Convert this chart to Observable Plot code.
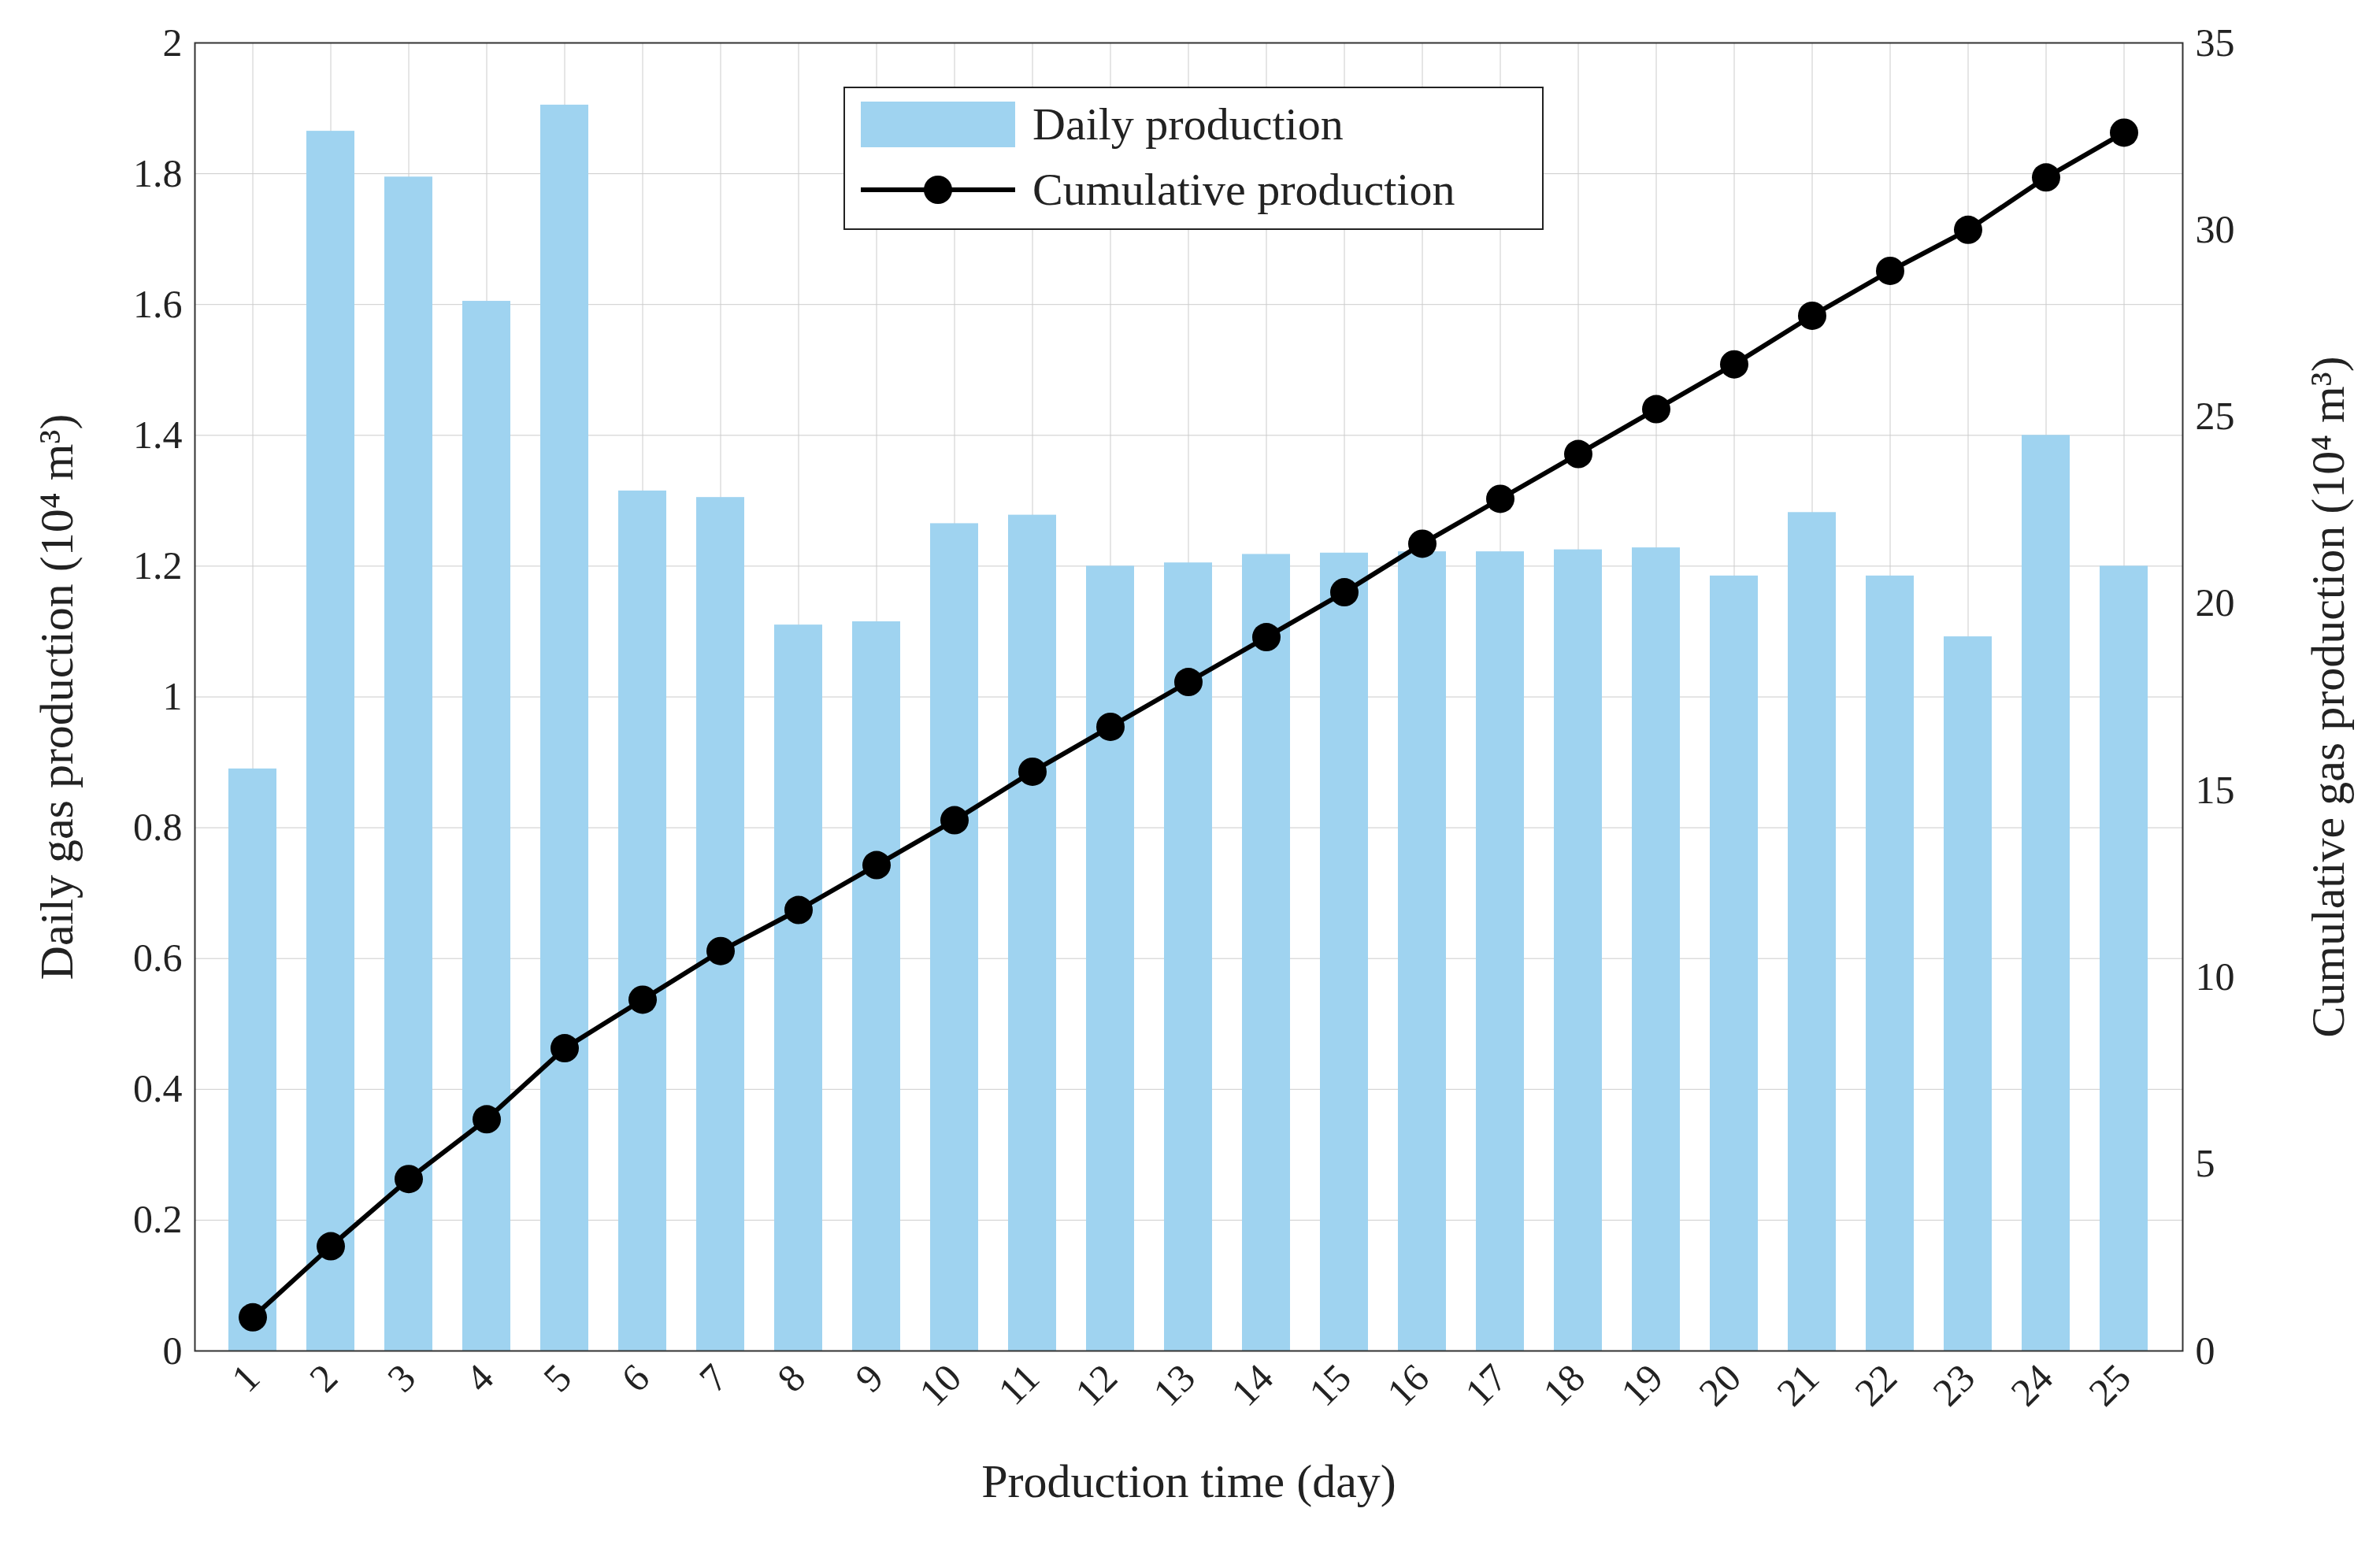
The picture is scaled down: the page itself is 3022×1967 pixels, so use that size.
<!DOCTYPE html>
<html><head><meta charset="utf-8">
<script src="https://cdn.jsdelivr.net/npm/d3@7"></script>
<script src="https://cdn.jsdelivr.net/npm/@observablehq/plot@0.6"></script>
<style>
body{margin:0;background:#fff;font-family:"Liberation Serif",serif}
#wrap{position:relative;width:3022px;height:1967px}
#legend{position:absolute;left:1071px;top:110px;width:885px;height:178px;border:2px solid #222;background:#fff;font-size:58px;color:#222}
.row{position:absolute;left:20px;display:flex;align-items:center}
svg g[aria-label="y-axis tick label"] text, svg g[aria-label="x-axis tick label"] text{font-size:50px}
</style></head><body>
<div id="wrap"><div id="chart"></div>
<div id="legend">
<div class="row" style="top:12px"><div style="width:196px;height:58px;background:#9fd3f0"></div><span style="margin-left:22px">Daily production</span></div>
<div class="row" style="top:95px"><svg width="196" height="60"><line x1="0" y1="30" x2="196" y2="30" stroke="#000" stroke-width="6"/><circle cx="98" cy="30" r="18" fill="#000"/></svg><span style="margin-left:22px">Cumulative production</span></div>
</div></div>
<script>
const days = d3.range(1, 26).map(String);
const daily = [0.89,1.865,1.795,1.605,1.905,1.315,1.305,1.11,1.115,1.265,1.278,1.2,1.205,1.218,1.22,1.222,1.222,1.225,1.228,1.185,1.282,1.185,1.092,1.4,1.2];
const cumulative = [0.9,2.8,4.6,6.2,8.1,9.4,10.7,11.8,13.0,14.2,15.5,16.7,17.9,19.1,20.3,21.6,22.8,24.0,25.2,26.4,27.7,28.9,30.0,31.4,32.6];
const leftTicks = [0,0.2,0.4,0.6,0.8,1,1.2,1.4,1.6,1.8,2];
const rightTicks = [0,5,10,15,20,25,30,35];
const k = 2/35;
const rows = days.map((d,i)=>({day:d, daily:daily[i], cum:cumulative[i]}));
const plot = Plot.plot({
  width:3022, height:1967,
  marginLeft:247, marginRight:251, marginTop:54, marginBottom:252,
  style:{fontFamily:"Liberation Serif, serif", fontSize:"50px", color:"#222", background:"#fff"},
  x:{type:"band", domain:days, padding:0.38, label:null},
  y:{domain:[0,2], label:null},
  marks:[
    Plot.gridX(days,{stroke:"#ccc", strokeOpacity:1}),
    Plot.gridY(leftTicks,{stroke:"#ccc", strokeOpacity:1}),
    Plot.barY(rows,{x:"day", y:"daily", fill:"#9fd3f0"}),
    Plot.line(rows,{x:"day", y:d=>d.cum*k, stroke:"#000", strokeWidth:6}),
    Plot.dot(rows,{x:"day", y:d=>d.cum*k, r:18, fill:"#000"}),
    Plot.frame({stroke:"#333", strokeWidth:2}),
    Plot.axisY(leftTicks,{anchor:"left", tickSize:0, tickPadding:16, tickFormat:d=>String(d), label:null}),
    Plot.axisY(rightTicks.map(t=>t*k),{anchor:"right", tickSize:0, tickPadding:16, tickFormat:d=>String(Math.round(d/k)), label:null}),
    Plot.axisX(days,{tickSize:0, tickRotate:-45, tickPadding:26, label:null}),
    Plot.text(["Production time (day)"],{frameAnchor:"bottom", dy:185, fontSize:60, textAnchor:"middle"}),
    Plot.text(["Daily gas production (10⁴ m³)"],{frameAnchor:"left", dx:-175, rotate:-90, fontSize:60, textAnchor:"middle"}),
    Plot.text(["Cumulative gas production (10⁴ m³)"],{frameAnchor:"right", dx:185, rotate:-90, fontSize:60, textAnchor:"middle"})
  ]
});
document.getElementById("chart").appendChild(plot);
</script></body></html>
